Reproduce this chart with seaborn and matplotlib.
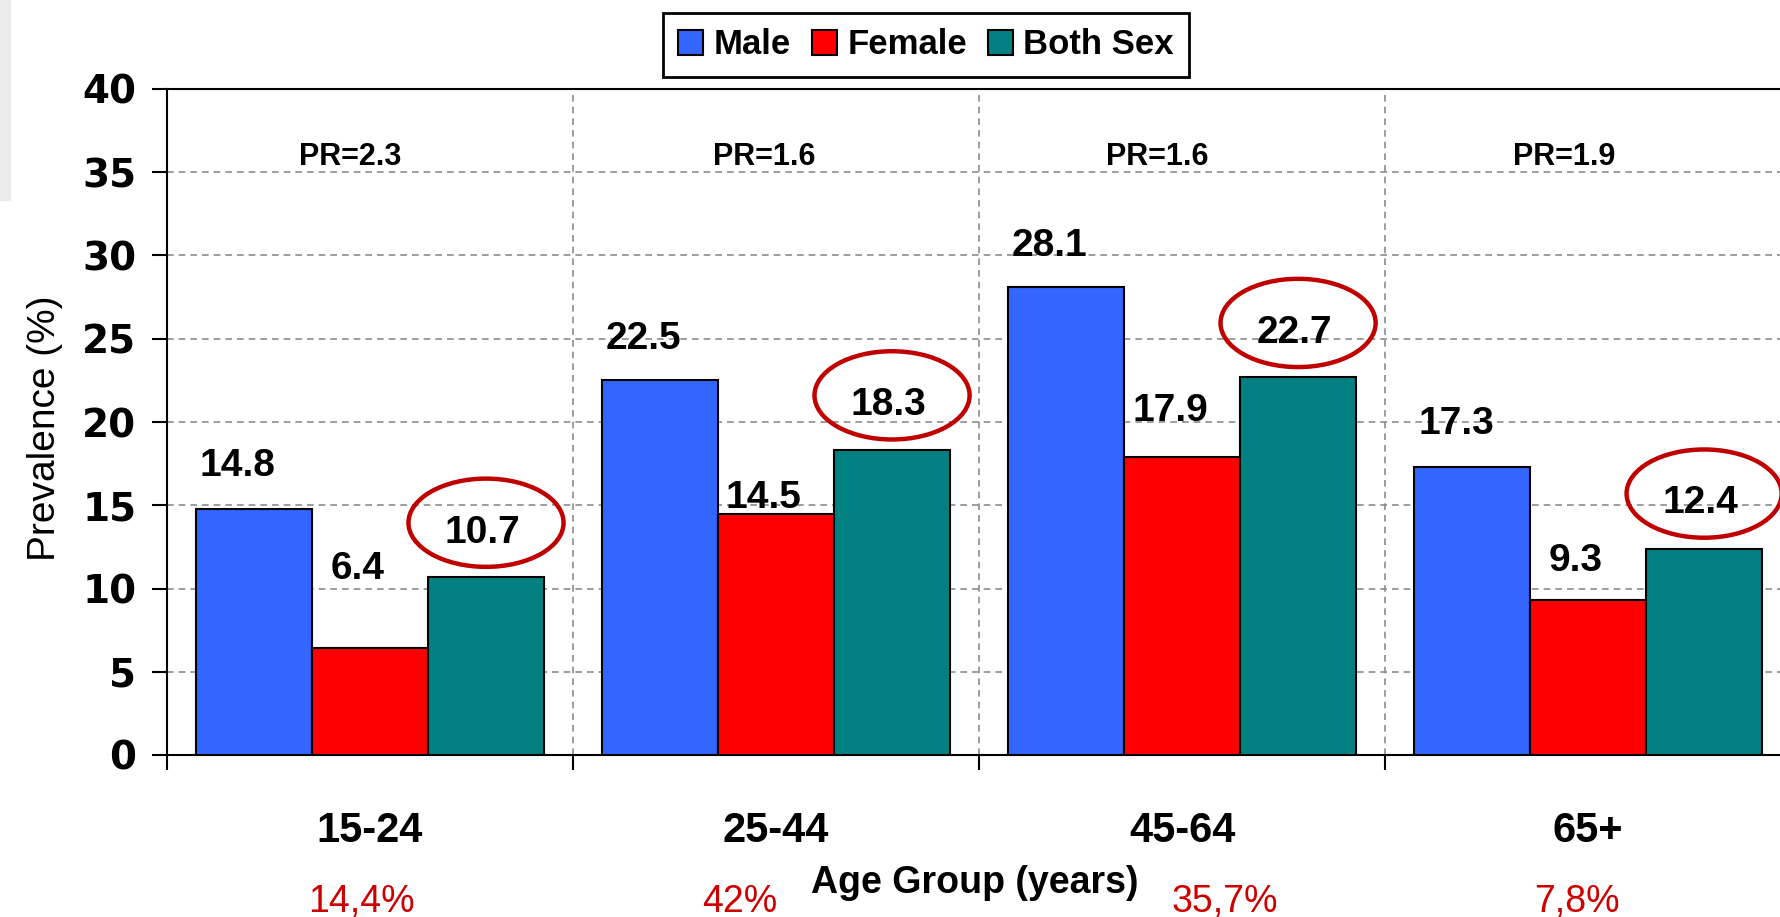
import matplotlib
matplotlib.use("Agg")
import matplotlib.pyplot as plt
import seaborn as sns
import pandas as pd
from matplotlib.patches import Ellipse, Rectangle
from matplotlib.transforms import blended_transform_factory

# ---------------- data ----------------
age_groups = ["15-24", "25-44", "45-64", "65+"]
sexes = ["Male", "Female", "Both Sex"]
male = [14.8, 22.5, 28.1, 17.3]
female = [6.4, 14.5, 17.9, 9.3]
both = [10.7, 18.3, 22.7, 12.4]
pr_labels = ["PR=2.3", "PR=1.6", "PR=1.6", "PR=1.9"]
share_labels = ["14,4%", "42%", "35,7%", "7,8%"]
y_ticks = [0, 5, 10, 15, 20, 25, 30, 35, 40]

# ---------------- style / layout ----------------
colors = ["#3366FF", "#FF0000", "#008080"]
label_lift = {"Male": [2.8, 2.7, 2.7, 2.8],
              "Female": [5.0, 1.2, 3.0, 2.6],
              "Both Sex": [2.9, 2.95, 2.9, 2.95]}
label_dx = {"Male": -0.04, "Female": -0.03, "Both Sex": -0.01}
pr_dx = [-0.05, -0.03, -0.06, -0.06]
share_x = [-0.02, 0.91, 2.106, 2.973]

sns.set_theme(style="white")
plt.rcParams["font.family"] = ["Liberation Sans", "DejaVu Sans"]
plt.rcParams.update({"text.color": "black", "axes.labelcolor": "black",
                     "xtick.color": "black", "ytick.color": "black"})

W, H = 1781, 917
fig = plt.figure(figsize=(W / 100, H / 100), dpi=100)
fig.patch.set_facecolor("white")
fig.patches.append(Rectangle((0, 1 - 200 / H), 10 / W, 200 / H, transform=fig.transFigure,
                             color="#EBEBEB", zorder=0))
ax = fig.add_axes([167 / W, 1 - 755 / H, 1 - 167 / W, 666 / H])

df = pd.DataFrame({
    "Age": age_groups * 3,
    "Sex": [s for s in sexes for _ in age_groups],
    "Prevalence": male + female + both,
})

sns.barplot(data=df, x="Age", y="Prevalence", hue="Sex", hue_order=sexes,
            palette=colors, width=0.857, gap=0, saturation=1,
            edgecolor="black", linewidth=1.5, errorbar=None, ax=ax, zorder=3)

handles, labels = ax.get_legend_handles_labels()
if ax.get_legend() is not None:
    ax.get_legend().remove()

ax.set_xlim(-0.5, 3.475)
ax.set_ylim(0, 40)
ax.set_yticks(y_ticks)
ax.set_xticks([-0.5, 0.5, 1.5, 2.5], minor=True)

ax.set_axisbelow(True)
grid_kw = dict(linestyle=(0, (4, 3)), color="#8c8c8c", linewidth=1.2)
ax.yaxis.grid(True, **grid_kw)
ax.xaxis.grid(True, which="minor", **grid_kw)
ax.xaxis.grid(False, which="major")

for side in ["top", "left", "bottom"]:
    ax.spines[side].set_visible(True)
    ax.spines[side].set_color("black")
    ax.spines[side].set_linewidth(1.5)
ax.spines["right"].set_visible(False)

ax.tick_params(axis="x", which="major", length=0, pad=63, labelsize=30, labelcolor="black")
ax.tick_params(axis="x", which="minor", length=11, width=1.5, color="black", direction="out",
               bottom=True)
ax.tick_params(axis="y", which="major", length=11, width=1.5, color="black", direction="out",
               left=True, pad=11, labelsize=28, labelcolor="black")
plt.setp(ax.get_xticklabels(), fontweight="bold", va="baseline")
plt.setp(ax.get_yticklabels(), fontweight="bold", family=["DejaVu Sans"])

ax.set_ylabel("Prevalence (%)", fontsize=28, va="baseline", ha="center", color="black")
ax.yaxis.set_label_coords((55 - 167) / 1614, (755 - 428) / 666)
ax.set_xlabel("Age Group (years)", fontsize=27, fontweight="bold", va="baseline", color="black")
ax.xaxis.set_label_coords((975 - 167) / 1614, (755 - 893) / 666)

series = {"Male": male, "Female": female, "Both Sex": both}
cap_units = 1.68 / 2
for cont, sex in zip(ax.containers, sexes):
    vals = series[sex]
    for bar, v, lift in zip(cont, vals, label_lift[sex]):
        xc = bar.get_x() + bar.get_width() / 2
        ax.text(xc + label_dx[sex], v + lift - cap_units, f"{v:.1f}", ha="center",
                va="baseline", fontsize=28, fontweight="bold", color="black", zorder=6)
        if sex == "Both Sex":
            ax.add_patch(Ellipse((xc, v + lift + 0.35), 0.382, 5.3, fill=False,
                                 edgecolor="#C00000", linewidth=3.2, zorder=7, clip_on=False))

for i, t in enumerate(pr_labels):
    ax.text(i + pr_dx[i], 35.45, t, ha="center", va="baseline", fontsize=22,
            fontweight="bold", color="black", zorder=6)

trans = blended_transform_factory(ax.transData, ax.transAxes)
for x, t in zip(share_x, share_labels):
    ax.text(x, (755 - 912) / 666, t, ha="center", va="baseline", fontsize=27,
            color="#CC0000", transform=trans, clip_on=False)

leg = fig.legend(handles, labels, loc="center", bbox_to_anchor=(926 / W, 1 - 45 / H), ncol=3,
                 fontsize=25, frameon=True, fancybox=False, framealpha=1, edgecolor="black",
                 handlelength=0.72, handleheight=0.72, handletextpad=0.3, columnspacing=0.6,
                 borderpad=0.45, borderaxespad=0)
leg.get_frame().set_linewidth(2)
for t in leg.get_texts():
    t.set_fontweight("bold")
    t.set_color("black")

fig.savefig("out.png", dpi=100)
